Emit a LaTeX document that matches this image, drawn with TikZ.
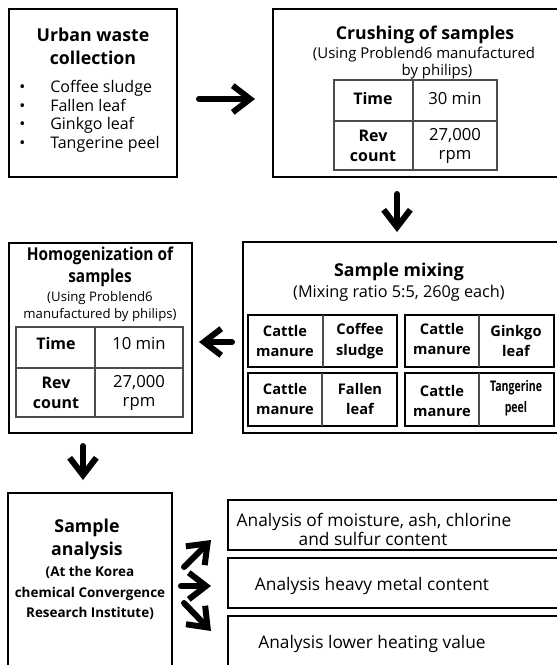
\documentclass[tikz,border=0pt]{standalone}
\usepackage{fontspec}
\usepackage{graphicx}
\setmainfont{Open Sans}
\usetikzlibrary{arrows.meta,fit}
\begin{document}
\begin{tikzpicture}[x=0.75pt,y=-0.75pt,
  box/.style={draw, line width=2.2pt, inner sep=0pt, rectangle},
  inbox/.style={draw, line width=1.8pt, inner sep=0pt, rectangle},
  rbox/.style={draw, line width=1.8pt, inner sep=0pt, rectangle},
  tline/.style={draw=black!70, line width=0.8pt},
  bigarrow/.style={line width=4.5pt, line cap=round,
    -{Straight Barb[length=13pt,width=20pt,line width=4.5pt]}},
  ttl/.style={font=\fontsize{13.3}{17}\selectfont\bfseries, anchor=base, inner sep=0pt},
  sub/.style={font=\fontsize{11.2}{13}\selectfont, anchor=base, inner sep=0pt},
  subs/.style={font=\fontsize{9.9}{13}\selectfont, anchor=base, inner sep=0pt},
  lst/.style={font=\fontsize{12}{14}\selectfont, anchor=base west, inner sep=0pt},
  cellb/.style={font=\fontsize{12}{14.5}\selectfont\bfseries, align=center, inner sep=0pt},
  cellr/.style={font=\fontsize{12.5}{14.5}\selectfont, align=center, inner sep=0pt},
  mix/.style={font=\fontsize{11}{15.5}\selectfont\bfseries, align=center, inner sep=0pt},
  ana/.style={font=\fontsize{13}{15}\selectfont, anchor=base, inner sep=0pt}
]
\useasboundingbox (0,0) rectangle (557,665);
\clip (0,0) rectangle (557,665);

% ---------- Box 1: Urban waste collection
\node[box, fit={(9,9) (177,177)}] (b1) {};
\node[ttl] (b1t1) at (93,41) {Urban waste};
\node[ttl] (b1t2) at (93,64) {collection};
\node[lst] (b1d1) at (19,92) {•};
\node[lst] (b1d2) at (19,111) {•};
\node[lst] (b1d3) at (19,129) {•};
\node[lst] (b1d4) at (19,148) {•};
\node[lst] (b1l1) at (50,92) {Coffee sludge};
\node[lst] (b1l2) at (50,111) {Fallen leaf};
\node[lst] (b1l3) at (50,129) {Ginkgo leaf};
\node[lst] (b1l4) at (50,148) {Tangerine peel};

% ---------- Box 2: Crushing of samples
\node[box, fit={(273,9) (600,177)}] (b2) {};
\node[ttl] (b2t) at (425,39) {Crushing of samples};
\node[sub] (b2s1) at (424,58) {(Using Problend6 manufactured};
\node[sub] (b2s2) at (437,75) {by philips)};
\draw[tline] (334,80) rectangle (497,170);
\draw[tline] (413,80) -- (413,170);
\draw[tline] (334,121) -- (497,121);
\node[cellb] (c2a) at (373,98) {Time};
\node[cellr] (c2b) at (455,98) {30 min};
\node[cellb] (c2c) at (373,146) {Rev\\count};
\node[cellr] (c2d) at (455,146) {27,000\\rpm};

% ---------- Box 3: Sample mixing
\node[box, fit={(243,242) (600,433)}] (b3) {};
\node[ttl] (b3t) at (399,276) {Sample mixing};
\node[font=\fontsize{12.2}{14}\selectfont, anchor=base, inner sep=0pt] (b3s) at (399,297) {(Mixing ratio 5:5, 260g each)};
\node[inbox, fit={(248,315) (397,367)}] (m1) {};
\node[inbox, fit={(405,315) (554,367)}] (m2) {};
\node[inbox, fit={(248,373) (397,426)}] (m3) {};
\node[inbox, fit={(405,373) (554,426)}] (m4) {};
\draw[tline] (323,315) -- (323,367);
\draw[tline] (479,315) -- (479,367);
\draw[tline] (322,373) -- (322,426);
\draw[tline] (479,373) -- (479,426);
\node[mix] (m1a) at (285,341) {Cattle\\manure};
\node[mix] (m1b) at (360,341) {Coffee\\sludge};
\node[mix] (m2a) at (442,339) {Cattle\\manure};
\node[mix] (m2b) at (516,341) {Ginkgo\\leaf};
\node[mix] (m3a) at (285,399) {Cattle\\manure};
\node[mix] (m3b) at (360,399) {Fallen\\leaf};
\node[mix] (m4a) at (442,401) {Cattle\\manure};
\node[mix] (m4b) at (516,398) {\scalebox{0.72}[1]{Tangerine}\\\scalebox{0.72}[1]{peel}};

% ---------- Box 4: Homogenization
\node[box, fit={(9,243) (192,433)}] (b4) {};
\node[ttl] (b4t1) at (100,260) {\scalebox{0.87}[1]{Homogenization of}};
\node[ttl] (b4t2) at (100,282) {\scalebox{0.87}[1]{samples}};
\node[subs] (b4s1) at (100,301) {(Using Problend6};
\node[subs] (b4s2) at (100,318) {manufactured by philips)};
\draw[tline] (16,327) rectangle (183,417);
\draw[tline] (95,327) -- (95,417);
\draw[tline] (16,368) -- (183,368);
\node[cellb] (c4a) at (56,343) {Time};
\node[cellr] (c4b) at (139,343) {10 min};
\node[cellb] (c4c) at (56,393) {Rev\\count};
\node[cellr] (c4d) at (139,393) {27,000\\rpm};

% ---------- Box 5: Sample analysis
\node[box, fit={(8,493) (172,700)}] (b5) {};
\node[ttl] (b5t1) at (87,532) {Sample};
\node[ttl] (b5t2) at (87,555) {analysis};
\node[font=\fontsize{10.1}{15.5}\selectfont\bfseries, align=center, inner sep=0pt] (b5s) at (90,593) {(At the Korea\\chemical Convergence\\Research Institute)};

% ---------- Analysis result boxes
\node[rbox, fit={(228,500) (600,550)}] (r1) {};
\node[rbox, fit={(228,558) (600,608)}] (r2) {};
\node[rbox, fit={(228,616) (600,700)}] (r3) {};
\node[ana] (r1t1) at (374,526) {Analysis of moisture, ash, chlorine};
\node[ana] (r1t2) at (373,545) {and sulfur content};
\node[ana] (r2t) at (372,590) {Analysis heavy metal content};
\node[ana] (r3t) at (372,648) {Analysis lower heating value};

% ---------- Arrows
\coordinate (a1s) at (199,99);  \coordinate (a1e) at (255,99);
\coordinate (a2s) at (397,194); \coordinate (a2e) at (397,232);
\coordinate (a3s) at (232,342); \coordinate (a3e) at (199,342);
\coordinate (a4s) at (83,446);  \coordinate (a4e) at (83,480);
\coordinate (a5s) at (184,567); \coordinate (a5e) at (211,540);
\coordinate (a6s) at (181,586); \coordinate (a6e) at (211,586);
\coordinate (a7s) at (184,603); \coordinate (a7e) at (211,631);
\draw[bigarrow] (a1s) -- (a1e);
\draw[bigarrow] (a2s) -- (a2e);
\draw[bigarrow] (a3s) -- (a3e);
\draw[bigarrow] (a4s) -- (a4e);
\draw[bigarrow] (a5s) -- (a5e);
\draw[bigarrow] (a6s) -- (a6e);
\draw[bigarrow] (a7s) -- (a7e);
\end{tikzpicture}
\end{document}
